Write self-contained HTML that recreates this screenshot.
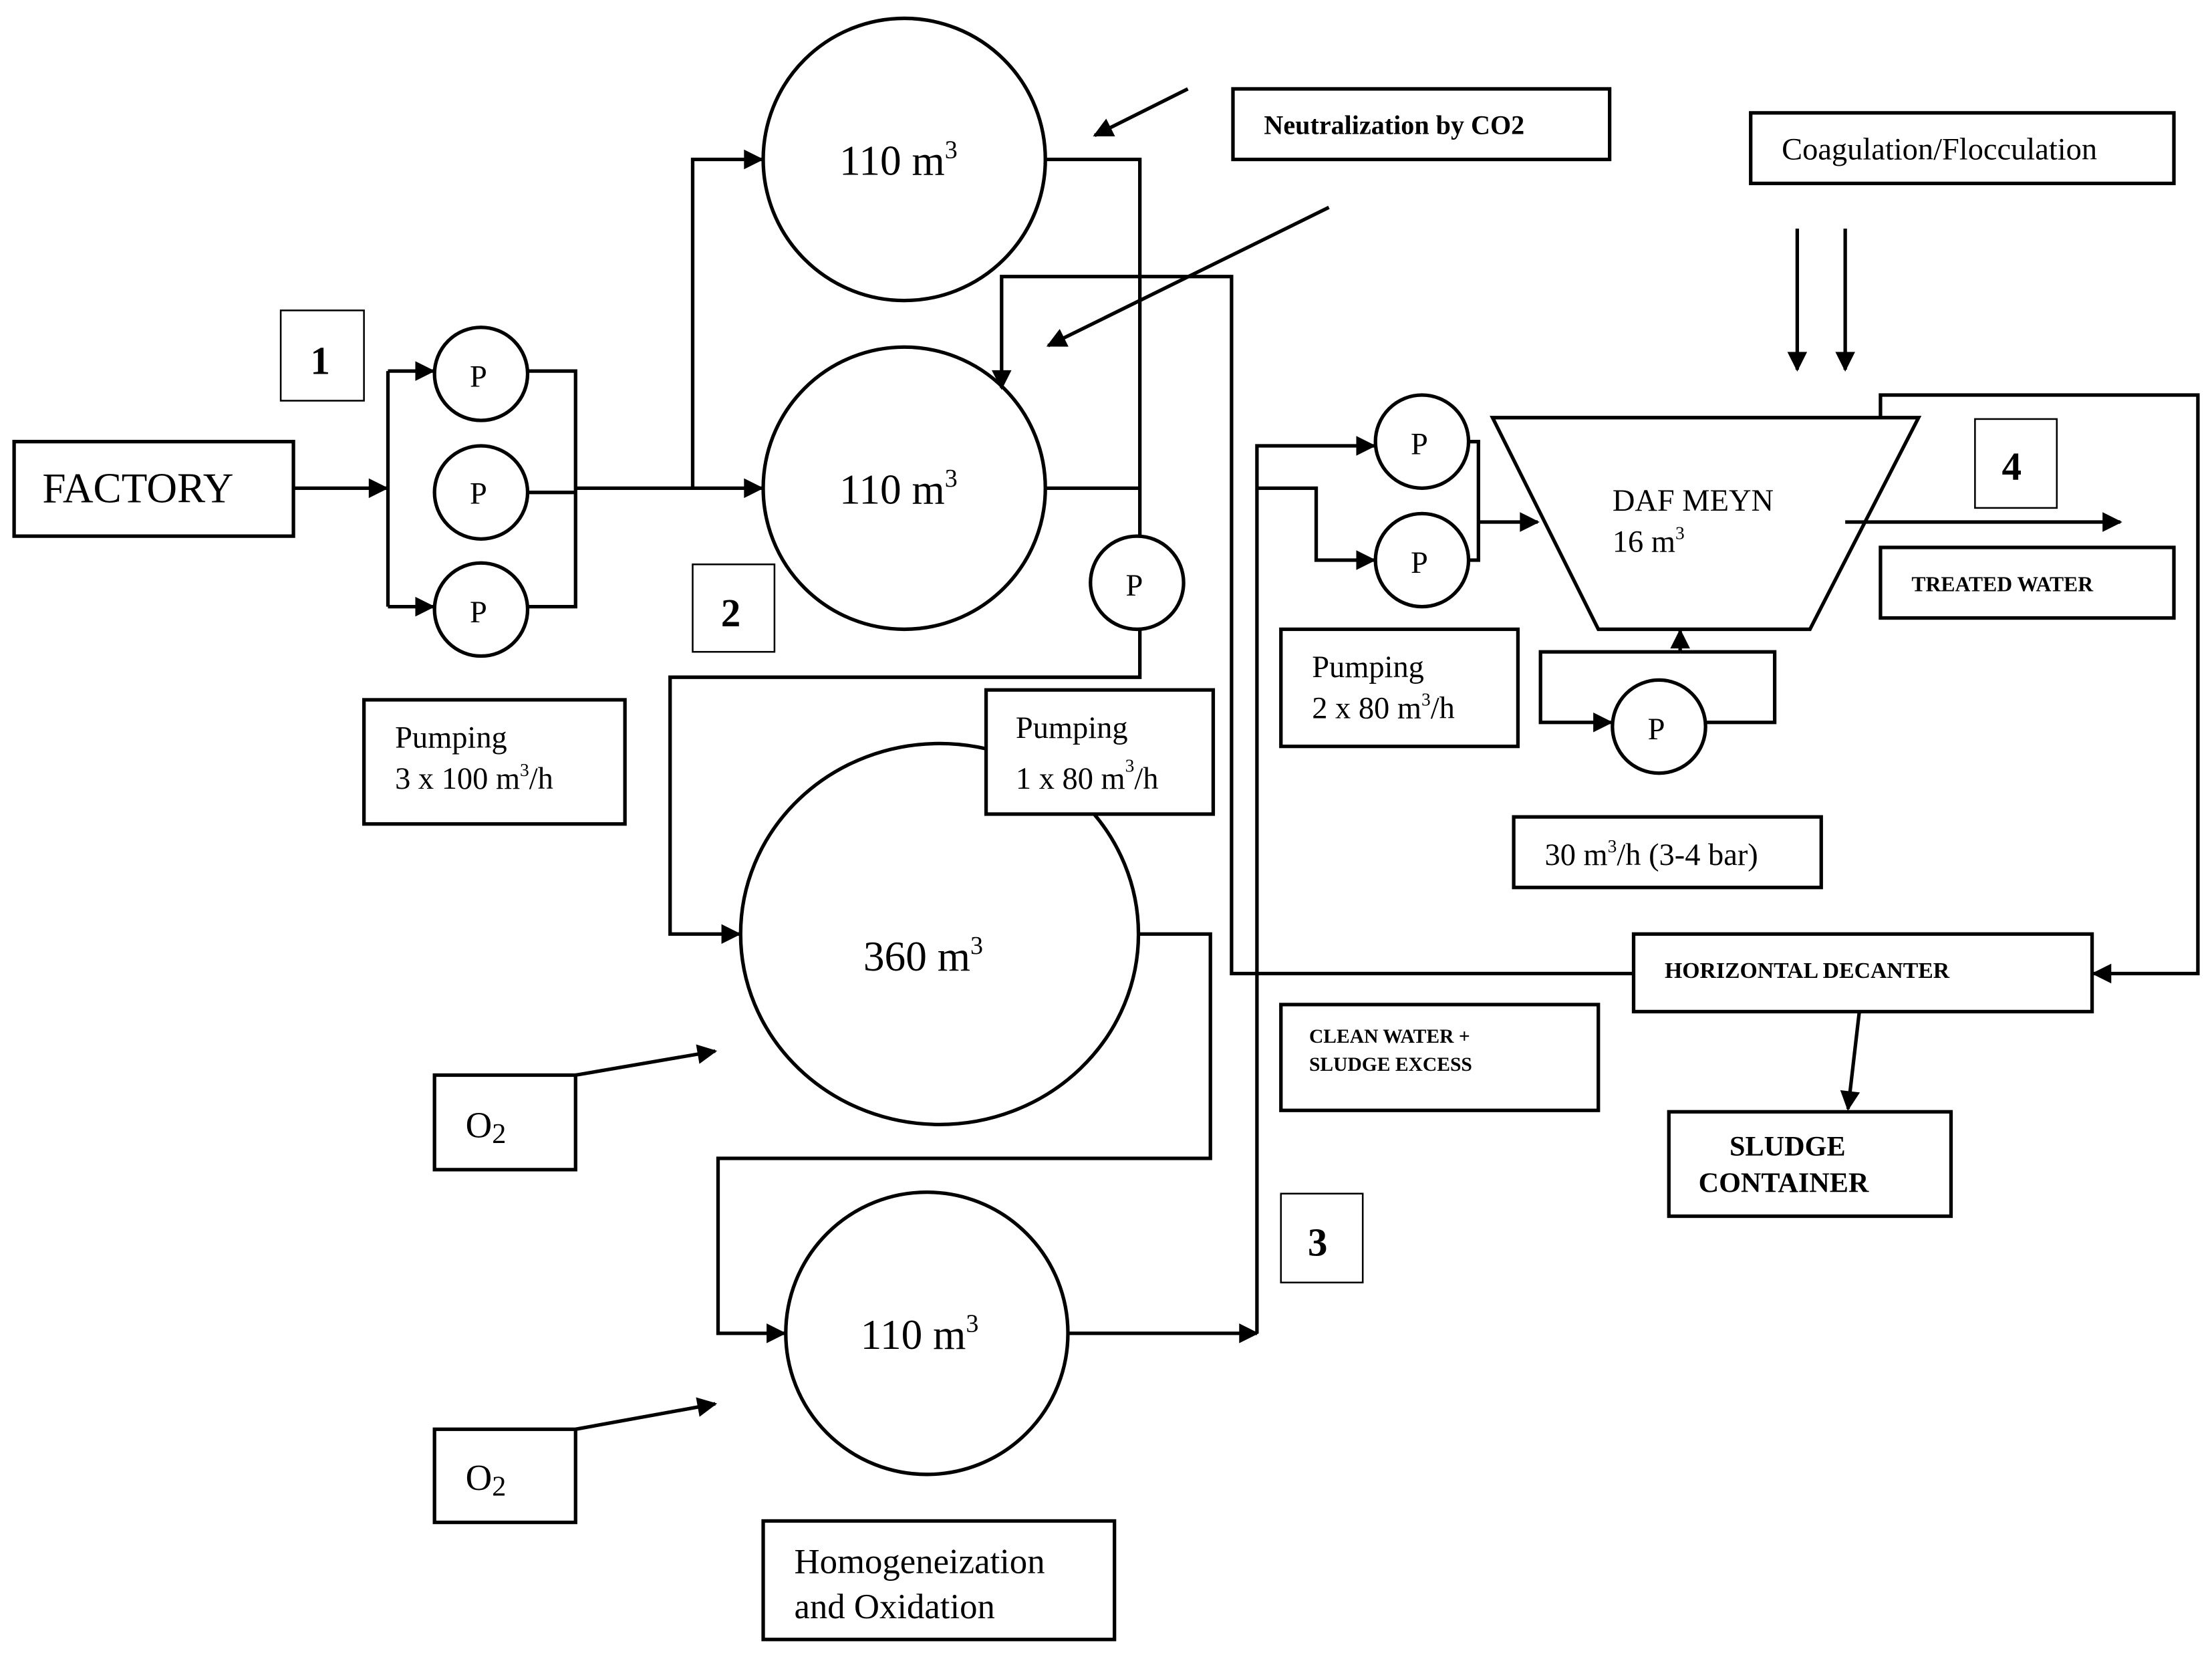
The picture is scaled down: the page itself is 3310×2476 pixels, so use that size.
<!DOCTYPE html>
<html><head><meta charset="utf-8"><style>
html,body{margin:0;padding:0;background:#fff;}
svg{display:block;}
text{font-family:"Liberation Serif",serif;fill:#000;}
</style></head><body>
<svg width="3310" height="2476" viewBox="0 0 1568 1173" preserveAspectRatio="none" xmlns="http://www.w3.org/2000/svg">
<defs>
<marker id="b" viewBox="0 0 10 10" markerWidth="16" markerHeight="14" refX="9" refY="5" orient="auto" markerUnits="userSpaceOnUse"><path d="M0,0 L10,5 L0,10 z" fill="#000"/></marker></defs>
<g fill="none" stroke="#000" stroke-width="2.5">
<rect x="10" y="313" width="198" height="67"/>
<rect x="199" y="220" width="59" height="64" stroke-width="1.2"/>
<rect x="491" y="400" width="58" height="62" stroke-width="1.2"/>
<rect x="874" y="63" width="267" height="50"/>
<rect x="258" y="496" width="185" height="88"/>
<rect x="1241" y="80" width="300" height="50"/>
<rect x="1400" y="297" width="58" height="63" stroke-width="1.2"/>
<rect x="1333" y="388" width="208" height="50"/>
<rect x="908" y="446" width="168" height="83"/>
<rect x="1073" y="579" width="218" height="50"/>
<rect x="1158" y="662" width="325" height="55"/>
<rect x="908" y="712" width="225" height="75"/>
<rect x="1183" y="788" width="200" height="74"/>
<rect x="908" y="846" width="58" height="63" stroke-width="1.2"/>
<rect x="308" y="762" width="100" height="67"/>
<rect x="308" y="1013" width="100" height="66"/>
<rect x="541" y="1078" width="249" height="84"/>
<circle cx="641" cy="113" r="100"/>
<circle cx="641" cy="346" r="100"/>
<ellipse cx="666" cy="662" rx="141" ry="135"/>
<rect x="699" y="489" width="161" height="88" fill="#fff"/>
<circle cx="657" cy="945" r="100"/>
<circle cx="341" cy="265" r="33"/><circle cx="341" cy="349" r="33"/><circle cx="341" cy="432" r="33"/>
<circle cx="806" cy="413" r="33"/>
<circle cx="1008" cy="313" r="33"/><circle cx="1008" cy="397" r="33"/>
<circle cx="1176" cy="515" r="33"/>
<path d="M1058,296 L1360,296 L1283,446 L1133,446 Z"/>
<path d="M208,346 L274,346" marker-end="url(#b)"/>
<path d="M275,263 L275,430"/>
<path d="M275,263 L307,263" marker-end="url(#b)"/>
<path d="M275,430 L307,430" marker-end="url(#b)"/>
<path d="M374,263 L408,263 L408,430 L374,430"/>
<path d="M374,349 L408,349"/>
<path d="M408,346 L540,346" marker-end="url(#b)"/>
<path d="M491,346 L491,113 L540,113" marker-end="url(#b)"/>
<path d="M741,113 L808,113 L808,380"/>
<path d="M741,346 L808,346"/>
<path d="M808,446 L808,480 L475,480 L475,662 L524,662" marker-end="url(#b)"/>
<path d="M1158,690 L873,690 L873,196 L710,196 L710,275" marker-end="url(#b)"/>
<path d="M842,63 L776,96" marker-end="url(#b)"/>
<path d="M942,147 L743,245" marker-end="url(#b)"/>
<path d="M807,662 L858,662 L858,821 L509,821 L509,945 L556,945" marker-end="url(#b)"/>
<path d="M757,945 L891,945" marker-end="url(#b)"/>
<path d="M891,945 L891,316 L974,316" marker-end="url(#b)"/>
<path d="M891,346 L933,346 L933,397 L974,397" marker-end="url(#b)"/>
<path d="M1041,313 L1048,313 L1048,397 L1041,397"/>
<path d="M1048,370 L1090,370" marker-end="url(#b)"/>
<path d="M1308,370 L1503,370" marker-end="url(#b)"/>
<path d="M1274,162 L1274,262" marker-end="url(#b)"/>
<path d="M1308,162 L1308,262" marker-end="url(#b)"/>
<path d="M1333,296 L1333,280 L1558,280 L1558,690 L1484,690" marker-end="url(#b)"/>
<path d="M1318,717 L1310,786" marker-end="url(#b)"/>
<path d="M1191,462 L1191,447" marker-end="url(#b)"/>
<path d="M1191,462 L1258,462 L1258,512 L1209,512"/>
<path d="M1191,462 L1092,462 L1092,512 L1142,512" marker-end="url(#b)"/>
<path d="M408,762 L507,745" marker-end="url(#b)"/>
<path d="M408,1013 L507,995" marker-end="url(#b)"/>
</g>
<g>
<text x="30" y="356" font-size="30">FACTORY</text>
<text x="220" y="265" font-size="28" font-weight="bold">1</text>
<text x="511" y="444" font-size="28" font-weight="bold">2</text>
<text x="927" y="890" font-size="28" font-weight="bold">3</text>
<text x="1419" y="340" font-size="28" font-weight="bold">4</text>
<text x="595" y="124" font-size="30">110 m<tspan font-size="18" dy="-12">3</tspan></text>
<text x="595" y="357" font-size="30">110 m<tspan font-size="18" dy="-12">3</tspan></text>
<text x="612" y="688" font-size="30">360 m<tspan font-size="18" dy="-12">3</tspan></text>
<text x="610" y="956" font-size="30">110 m<tspan font-size="18" dy="-12">3</tspan></text>
<g font-size="22"><text x="333" y="357">P</text><text x="333" y="274">P</text><text x="333" y="441">P</text><text x="798" y="422">P</text><text x="1000" y="322">P</text><text x="1000" y="406">P</text><text x="1168" y="524">P</text></g>
<text x="896" y="95" font-size="19" font-weight="bold">Neutralization by CO2</text>
<text x="1263" y="113" font-size="22">Coagulation/Flocculation</text>
<text x="280" y="530" font-size="22">Pumping</text>
<text x="280" y="559" font-size="22">3 x 100 m<tspan font-size="13" dy="-9">3</tspan><tspan dy="9">/h</tspan></text>
<text x="720" y="523" font-size="22">Pumping</text>
<text x="720" y="559" font-size="22">1 x 80 m<tspan font-size="13" dy="-12">3</tspan><tspan dy="12">/h</tspan></text>
<text x="1143" y="362" font-size="22">DAF MEYN</text>
<text x="1143" y="391" font-size="22">16 m<tspan font-size="13" dy="-9">3</tspan></text>
<text x="1355" y="419" font-size="15" font-weight="bold">TREATED WATER</text>
<text x="930" y="480" font-size="22">Pumping</text>
<text x="930" y="509" font-size="22">2 x 80 m<tspan font-size="13" dy="-9">3</tspan><tspan dy="9">/h</tspan></text>
<text x="1095" y="613" font-size="22">30 m<tspan font-size="13" dy="-9">3</tspan><tspan dy="9">/h (3-4 bar)</tspan></text>
<text x="1180" y="693" font-size="16" font-weight="bold">HORIZONTAL DECANTER</text>
<text x="928" y="739" font-size="14" font-weight="bold">CLEAN WATER +</text>
<text x="928" y="759" font-size="14" font-weight="bold">SLUDGE EXCESS</text>
<text x="1226" y="819" font-size="20" font-weight="bold">SLUDGE</text>
<text x="1204" y="845" font-size="20" font-weight="bold">CONTAINER</text>
<text x="330" y="806" font-size="26">O<tspan font-size="20" dy="4">2</tspan></text>
<text x="330" y="1056" font-size="26">O<tspan font-size="20" dy="4">2</tspan></text>
<text x="563" y="1115" font-size="25">Homogeneization</text>
<text x="563" y="1147" font-size="25">and Oxidation</text>
</g>
</svg>
</body></html>
